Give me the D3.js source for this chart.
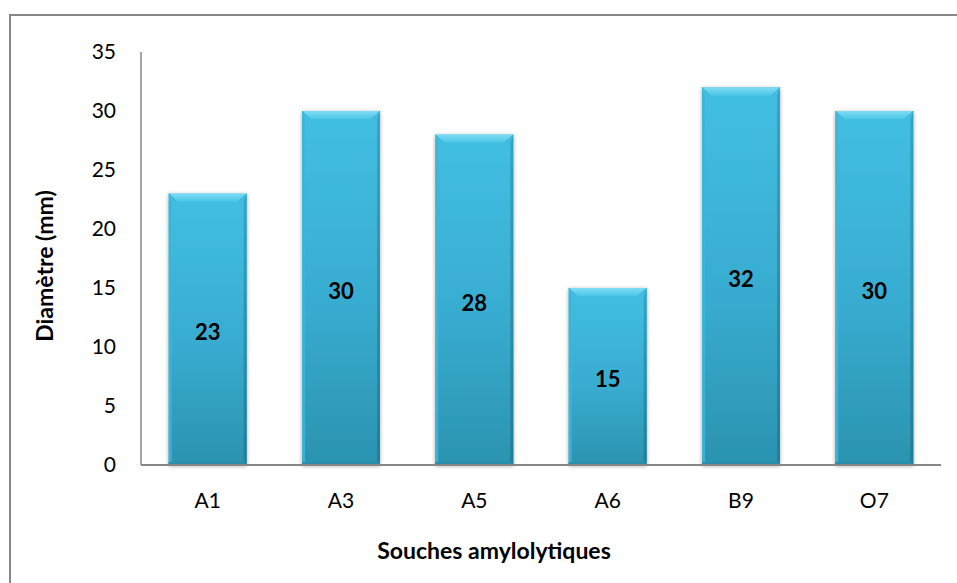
<!DOCTYPE html>
<html><head><meta charset="utf-8">
<script src="https://cdn.jsdelivr.net/npm/d3@7"></script>
<style>body{margin:0;background:#fff}svg{display:block}</style>
</head><body>
<svg id="c" width="957" height="583"></svg>
<script>
const categories = ["A1","A3","A5","A6","B9","O7"];
const values = [23,30,28,15,32,30];
const yTicks = [0,5,10,15,20,25,30,35];
const xTitle = "Souches amylolytiques";
const yTitle = "Diamètre (mm)";

(function(){
const svg = d3.select("#c");
const font = "Lato, 'Open Sans', sans-serif";
const pL = 141, pR = 941, pT = 52, pB = 465;

const x = d3.scaleBand().domain(categories).range([pL, pR]).paddingInner(0.415).paddingOuter(0.2075);
const y = d3.scaleLinear().domain([0,35]).range([pB, pT]);

const defs = svg.append("defs");
const g1 = defs.append("linearGradient").attr("id","body").attr("x1",0).attr("y1",0).attr("x2",0).attr("y2",1);
g1.append("stop").attr("offset","0%").attr("stop-color","#42bfe2");
g1.append("stop").attr("offset","55%").attr("stop-color","#38acd0");
g1.append("stop").attr("offset","100%").attr("stop-color","#2b93b0");
const g2 = defs.append("linearGradient").attr("id","topb").attr("x1",0).attr("y1",0).attr("x2",0).attr("y2",1);
g2.append("stop").attr("offset","0%").attr("stop-color","#7fdcf4");
g2.append("stop").attr("offset","100%").attr("stop-color","#4cc6e7");
const g3 = defs.append("linearGradient").attr("id","side").attr("x1",0).attr("y1",0).attr("x2",0).attr("y2",1);
g3.append("stop").attr("offset","0%").attr("stop-color","#33a6c8");
g3.append("stop").attr("offset","100%").attr("stop-color","#227d97");
const f = defs.append("filter").attr("id","sh").attr("x","-20%").attr("y","-20%").attr("width","140%").attr("height","140%");
f.append("feGaussianBlur").attr("in","SourceAlpha").attr("stdDeviation",2);
f.append("feOffset").attr("dx",0).attr("dy",1).attr("result","b");
f.append("feComponentTransfer").append("feFuncA").attr("type","linear").attr("slope",0.35);
const fm = f.append("feMerge"); fm.append("feMergeNode"); fm.append("feMergeNode").attr("in","SourceGraphic");

svg.append("rect").attr("x",10).attr("y",15).attr("width",980).attr("height",620)
  .attr("fill","none").attr("stroke","#868686").attr("stroke-width",2);

const bw = x.bandwidth(), bev = 8, sideW = 3;
const bars = svg.append("g").selectAll("g").data(categories).join("g");
bars.each(function(c,i){
  const g = d3.select(this);
  const x0 = x(c), x1 = x0 + bw, yt = y(values[i]), yb = y(0);
  g.append("rect").attr("x",x0).attr("y",yt).attr("width",bw).attr("height",yb-yt)
    .attr("fill","url(#body)").attr("filter","url(#sh)");
  g.append("path").attr("d",`M${x0},${yt}L${x1},${yt}L${x1-bev},${yt+bev}L${x0+bev},${yt+bev}Z`).attr("fill","url(#topb)");
  g.append("path").attr("d",`M${x0},${yt}L${x0+bev},${yt+bev}`).attr("stroke","#2f9fc0").attr("stroke-width",1).attr("opacity",0.7);
  g.append("path").attr("d",`M${x1},${yt}L${x1-bev},${yt+bev}`).attr("stroke","#2f9fc0").attr("stroke-width",1).attr("opacity",0.7);
  g.append("path").attr("d",`M${x0},${yt}L${x0+sideW},${yt+bev}L${x0+sideW},${yb-2}L${x0},${yb}Z`).attr("fill","#3db5d8").attr("opacity",0.9);
  g.append("path").attr("d",`M${x1},${yt}L${x1-sideW},${yt+bev}L${x1-sideW},${yb-2}L${x1},${yb}Z`).attr("fill","url(#side)");
  g.append("rect").attr("x",x0).attr("y",yb-3).attr("width",bw).attr("height",3).attr("fill","#2a8ea9");
});

svg.append("line").attr("x1",pL).attr("x2",pL).attr("y1",pT).attr("y2",pB).attr("stroke","#868686").attr("stroke-width",1.5);
svg.append("line").attr("x1",pL).attr("x2",pR).attr("y1",pB).attr("y2",pB).attr("stroke","#868686").attr("stroke-width",2);

svg.append("g").selectAll("text").data(yTicks).join("text")
  .attr("x",116).attr("y",d=>y(d)).attr("dy","0.35em").attr("text-anchor","end")
  .attr("font-family",font).attr("font-size",21).attr("fill","#000").text(d=>d);

svg.append("g").selectAll("text").data(categories).join("text")
  .attr("x",d=>x(d)+bw/2).attr("y",501).attr("dy","0.35em").attr("text-anchor","middle")
  .attr("font-family",font).attr("font-size",21).attr("fill","#000").text(d=>d);

svg.append("g").selectAll("text").data(categories).join("text")
  .attr("x",d=>x(d)+bw/2).attr("y",(d,i)=>y(values[i]/2)+3).attr("dy","0.35em").attr("text-anchor","middle")
  .attr("font-family",font).attr("font-weight","bold").attr("font-size",22).attr("fill","#000").text((d,i)=>values[i]);

svg.append("text").attr("x",494).attr("y",551).attr("dy","0.35em").attr("text-anchor","middle")
  .attr("font-family",font).attr("font-weight","bold").attr("font-size",23).text(xTitle);
svg.append("text").attr("transform","translate(45,266) rotate(-90)").attr("dy","0.35em").attr("text-anchor","middle")
  .attr("font-family",font).attr("font-weight","bold").attr("font-size",23).text(yTitle);
})();
</script>
</body></html>
